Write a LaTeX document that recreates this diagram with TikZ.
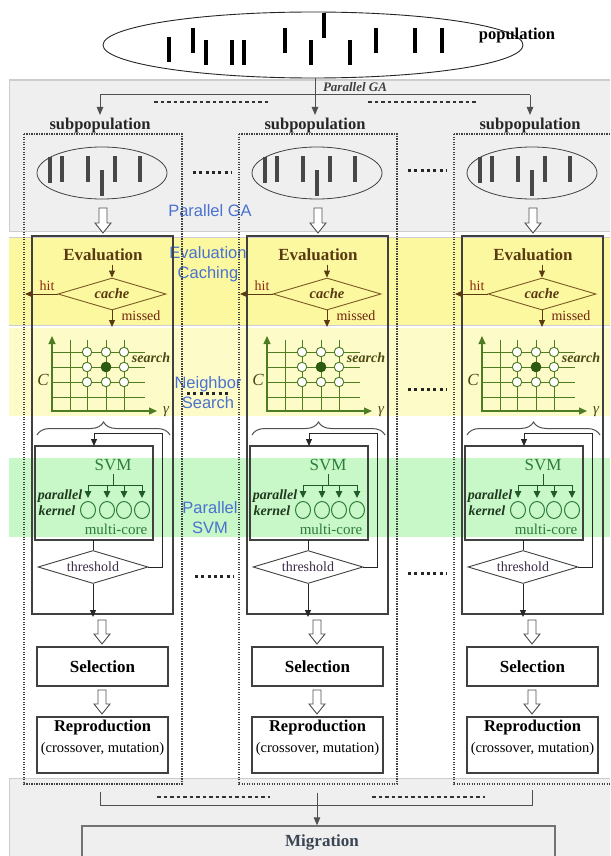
\documentclass[tikz,border=0pt]{standalone}
\usepackage{fontspec}
\setmainfont{Liberation Serif}
\newfontfamily\labelsans{Liberation Sans}
\usetikzlibrary{shapes.geometric,arrows.meta,decorations.pathreplacing,calc}

\definecolor{bandgray}{HTML}{EFEFEF}
\definecolor{bandline}{HTML}{CDCDCD}
\definecolor{bandyellow}{HTML}{FBF8A0}
\definecolor{bandpale}{HTML}{FDFBC8}
\definecolor{bandgreen}{HTML}{C8F7C8}
\definecolor{boxline}{HTML}{404040}
\definecolor{linkgray}{HTML}{505050}
\definecolor{evalbrown}{HTML}{5A3A12}
\definecolor{cachebrown}{HTML}{7A5A22}
\definecolor{hitred}{HTML}{8A2A12}
\definecolor{gridgreen}{HTML}{4E7C22}
\definecolor{dotgreen}{HTML}{2C5A12}
\definecolor{olivetext}{HTML}{4A4A12}
\definecolor{svmgreen}{HTML}{2E7D3A}
\definecolor{svmdark}{HTML}{1F5A2A}
\definecolor{kerngreen}{HTML}{1F3A1F}
\definecolor{threshtext}{HTML}{3C2C48}
\definecolor{layerblue}{HTML}{4A72D0}
\definecolor{migtext}{HTML}{3A4654}

\newcommand\fs[1]{\fontsize{#1}{#1}\selectfont}
% open (hollow) block arrow pointing down from #1 to #2
\newcommand\hollowdown[2]{%
  \draw[hollow] let \p1=(#1), \p2=(#2) in
    (\x1-4pt,\y1) -- (\x1+4pt,\y1) -- (\x1+4pt,\y2+10pt) -- (\x1+8pt,\y2+10pt)
    -- (\x1,\y2) -- (\x1-8pt,\y2+10pt) -- (\x1-4pt,\y2+10pt) -- cycle;}

\begin{document}
\begin{tikzpicture}[x=1pt,y=-1pt,
  hollow/.style={draw=linkgray,fill=white,line width=0.9pt,line join=miter},
  box/.style={draw=boxline,line width=1.1pt,inner sep=0pt,outer sep=0pt},
  link/.style={draw=linkgray,line width=1pt,-{Triangle[length=8pt,width=6.5pt]}},
  linkline/.style={draw=linkgray,line width=1pt},
  dotrow/.style={draw=black!80,line width=2.6pt,dash pattern=on 3.6pt off 2.9pt},
  gapdots/.style={draw=black!85,line width=3pt,dash pattern=on 3pt off 3.3pt},
  coldot/.style={draw=black!75,line width=1.3pt,dash pattern=on 1.1pt off 1.4pt},
  bar/.style={draw=black!72,line width=3.6pt},
  popbar/.style={draw=black,line width=3.8pt},
  brownarrow/.style={draw=evalbrown,line width=1pt,-{Triangle[length=7pt,width=6pt]}},
  darkarrow/.style={draw=black!85,line width=1pt,-{Triangle[length=7pt,width=6pt]}},
  darkline/.style={draw=black!85,line width=1pt},
  gridline/.style={draw=gridgreen,line width=1pt},
  gridaxis/.style={draw=gridgreen,line width=1.2pt,-{Triangle[length=8pt,width=7pt]}},
  gridpt/.style={circle,draw=gridgreen,fill=white,line width=0.9pt,minimum size=9.5pt,inner sep=0pt},
  core/.style={ellipse,draw=svmgreen,line width=1pt,minimum width=15pt,minimum height=17pt,inner sep=0pt},
  svmline/.style={draw=svmdark,line width=1pt},
  svmarrow/.style={draw=svmdark,line width=1pt,-{Triangle[length=7pt,width=6.5pt]}},
  layer/.style={font=\labelsans\fontsize{16.5}{20.5}\selectfont,text=layerblue,align=center,inner sep=0pt},
  bracegray/.style={draw=linkgray,line width=1pt,decorate,decoration={brace,amplitude=13pt}}]

\useasboundingbox (0,0) rectangle (610,856);

% ---- shaded layers ----
\fill[bandgray] (9,80) rectangle (610,231);
\draw[bandline,line width=1.2pt] (9,80) -- (610,80);
\draw[bandline,line width=0.8pt] (9,80) -- (9,231) -- (610,231);
\fill[bandyellow] (9,237) rectangle (610,325);
\draw[bandline,line width=0.8pt] (9,237) -- (610,237) (9,325) -- (610,325);
\fill[bandpale] (9,328) rectangle (610,416);
\fill[bandgreen] (9,458) rectangle (610,537);
\fill[bandgray] (9,778) rectangle (610,856);
\draw[bandline,line width=1pt] (9,856) -- (9,778) -- (610,778);

% ---- layer captions ----
\node[layer] (capga) at (210,211) {Parallel GA};
\node[layer] (capec) at (208,264) {Evaluation\\Caching};
\node[layer] (capns) at (208,392.5) {Neighbor\\Search};
\node[layer] (capps) at (210,517.5) {Parallel\\SVM};

% ---- whole population ----
\node[ellipse,draw=black!85,line width=0.9pt,minimum width=420pt,minimum height=66pt,inner sep=0pt] (pop) at (313,45) {};
\foreach \bx/\bt/\bb [count=\n] in {169/37/62,193/28/53,206/40/65,232/40/65,244/40/65,285/28/53,
                        311/40/65,324/13/38,350/40/65,376/28/53,415/28/53,442/28/53}
  \draw[popbar] (\bx,\bt) -- (\bx,\bb);
\node[font=\bfseries\fs{16.5}] (popl) at (517,36) {population};

% ---- the three islands ----
\foreach \i/\dx in {1/0,2/215,3/430}{
\begin{scope}[xshift=\dx pt]
  \node[font=\bfseries\fs{16.5},text=black!85] (sp\i) at (100,126) {subpopulation};
  \draw[coldot] (24,134) rectangle (182,784);

  % subpopulation
  \node[ellipse,draw=boxline,line width=0.8pt,minimum width=130pt,minimum height=52pt,inner sep=0pt] (se\i) at (102,173) {};
  \foreach \bx/\bt/\bb in {50/157/183,62/156/182,88/156/182,102/170/196,115/156/182,140/156/182}
    \draw[bar] (\bx,\bt) -- (\bx,\bb);
  \coordinate (ha\i) at (103,208);
  \coordinate (hb\i) at (103,233);
  \hollowdown{ha\i}{hb\i}

  % outer loop frame
  \node[box,minimum width=141pt,minimum height=378pt] (frame\i) at (102.5,425) {};

  % evaluation caching
  \node[font=\bfseries\fs{17},text=evalbrown] (ev\i) at (103,255) {Evaluation};
  \node[diamond,draw=cachebrown,line width=0.9pt,minimum width=108pt,minimum height=32pt,
        inner sep=0pt,shape aspect=3.4,font=\bfseries\itshape\fs{14.5},text=evalbrown] (ca\i) at (112,294) {cache};
  \draw[brownarrow] (ev\i.south -| ca\i.north) -- (ca\i.north);
  \coordinate (hit\i) at (25,294);
  \draw[brownarrow] (ca\i.west) -- (hit\i);
  \node[font=\fs{14},text=hitred] (hitl\i) at (47,286) {hit};
  \coordinate (ms\i) at (112,327);
  \draw[brownarrow] (ca\i.south) -- (ms\i);
  \node[font=\fs{14},text=hitred!80!black] (msl\i) at (141,316) {missed};

  % neighbour search grid
  \foreach \gx in {70,87,106,124} \draw[gridline] (\gx,340) -- (\gx,411);
  \foreach \gy in {352,367,382,397} \draw[gridline] (52,\gy) -- (145,\gy);
  \draw[gridaxis] (52,412) -- (52,336);
  \draw[gridaxis] (51,411) -- (157,411);
  \foreach \cx in {87,106,124}
    \foreach \cy in {352,367,382}
      \node[gridpt] (gp-\i-\cx-\cy) at (\cx,\cy) {};
  \node[gridpt,fill=dotgreen,draw=dotgreen] (best\i) at (106,367) {};
  \node[font=\itshape\fs{17},text=olivetext] (cl\i) at (43,380) {C};
  \node[font=\bfseries\itshape\fs{14},text=olivetext] (srch\i) at (151,358) {search};
  \node[font=\itshape\fs{15},text=olivetext] (gam\i) at (166,412) {γ};
  \draw[bracegray] (37,435) -- (170,435);

  % parallel SVM
  \node[box,minimum width=118pt,minimum height=94pt] (svm\i) at (94,493) {};
  \node[font=\fs{17},text=svmgreen] (svmt\i) at (113,465) {SVM};
  \coordinate (fork\i) at (113,485);
  \draw[svmline] (svmt\i.south) -- (fork\i);
  \draw[svmline] (88,485) -- (142,485);
  \foreach \k/\cx in {1/88,2/107,3/124,4/142}{
    \node[core] (core\i\k) at (\cx,510) {};
    \draw[svmarrow,shorten >=3pt] (\cx,485) -- (core\i\k.north);
  }
  \node[font=\bfseries\itshape\fs{14},text=kerngreen] (par\i) at (60,496) {parallel};
  \node[font=\bfseries\itshape\fs{14},text=kerngreen] (ker\i) at (57,511) {kernel};
  \node[font=\fs{15},text=svmgreen] (mc\i) at (116,529) {multi-core};

  % threshold test and loop back
  \node[diamond,draw=boxline,line width=0.9pt,minimum width=110pt,minimum height=33pt,
        inner sep=0pt,shape aspect=3.6,font=\fs{14},text=threshtext] (th\i) at (93,567) {threshold};
  \coordinate (lp\i) at (162,433);
  \draw[darkarrow] (th\i.east) -| (lp\i) -| (svm\i.north);
  \draw[darkline] (svm\i.south -| th\i.north) -- (th\i.north);
  \coordinate (ex\i) at (93,617);
  \draw[darkarrow] (th\i.south) -- (ex\i);

  % selection and reproduction
  \coordinate (hc\i) at (102,620);
  \coordinate (hd\i) at (102,644);
  \hollowdown{hc\i}{hd\i}
  \node[box,minimum width=131pt,minimum height=39pt,font=\bfseries\fs{17}] (sel\i) at (102.5,666.5) {Selection};
  \coordinate (he\i) at (102,690);
  \coordinate (hf\i) at (102,714);
  \hollowdown{he\i}{hf\i}
  \node[box,minimum width=131pt,minimum height=56pt] (rep\i) at (102.5,745) {};
  \node[font=\bfseries\fs{16.5}] (rept\i) at (102.5,728) {Reproduction};
  \node[font=\fs{14.5}] (repc\i) at (102.5,749) {(crossover, mutation)};
\end{scope}}

% ---- split into islands ----
\node[font=\bfseries\itshape\fs{13},text=black!75] (pga) at (355,87) {Parallel GA};
\draw[link] (sp2.north |- pop.south) -- (sp2.north);
\coordinate (split) at (316,95);
\draw[linkline] (sp1.north |- split) -- (sp3.north |- split);
\draw[link] (sp1.north |- split) -- (sp1.north);
\draw[link] (sp3.north |- split) -- (sp3.north);
\draw[dotrow] (154,102) -- (268,102);
\draw[dotrow] (368,102) -- (477,102);

% ---- gaps between islands ----
\draw[gapdots] (193,172) -- (231,172);
\draw[gapdots] (408,170) -- (446,170);
\draw[gapdots] (187,393) -- (229,393);
\draw[gapdots] (408,389) -- (446,389);
\draw[gapdots] (195,576) -- (233,576);
\draw[gapdots] (408,573) -- (446,573);

% ---- migration ----
\node[draw=black!55,line width=1.3pt,minimum width=473pt,minimum height=48pt,inner sep=0pt] (mig) at (318.5,850) {};
\node[font=\bfseries\fs{17},text=migtext] (migt) at (322,842) {Migration};
\coordinate (ml) at (100,792);
\coordinate (mr) at (532,790);
\coordinate (mjoin) at (317,805);
\coordinate (mm) at (317,793);
\draw[linkline] (ml) |- (mjoin) -| (mr);
\draw[link] (mm) -- (mm |- mig.north);
\draw[dotrow] (157,797) -- (270,797);
\draw[dotrow] (372,797) -- (485,797);
\end{tikzpicture}
\end{document}
